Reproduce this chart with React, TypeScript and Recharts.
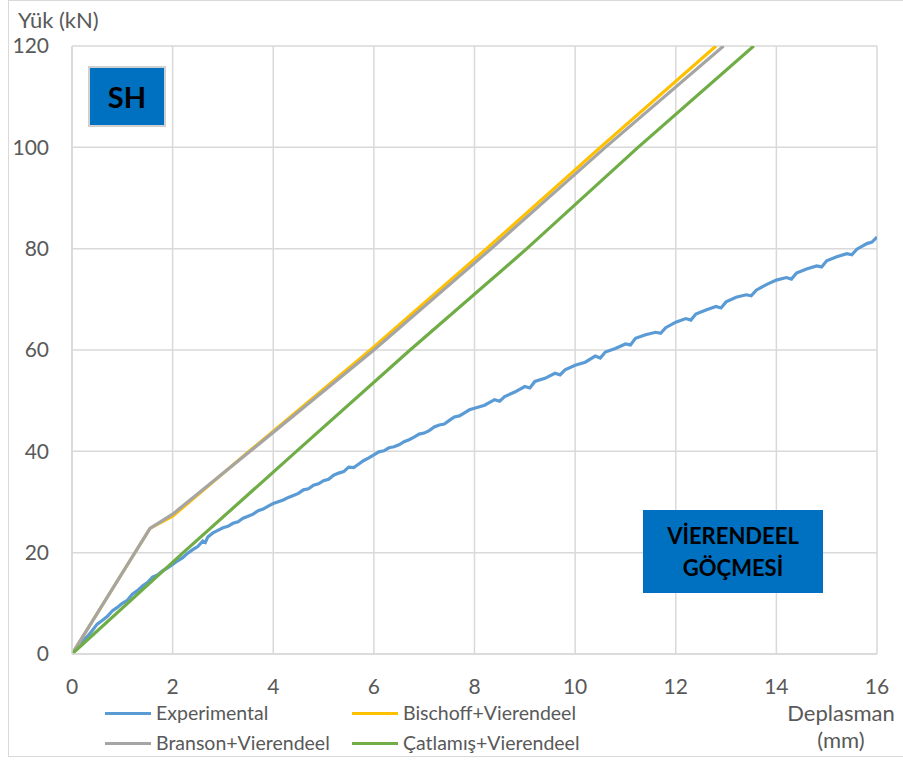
import React from "react";
import { LineChart, Line, XAxis, YAxis, CartesianGrid } from "recharts";

const xTicks = [0, 2, 4, 6, 8, 10, 12, 14, 16];
const yTicks = [0, 20, 40, 60, 80, 100, 120];

const seriesNames = ["Experimental", "Bischoff+Vierendeel", "Branson+Vierendeel", "Çatlamış+Vierendeel"];
const seriesColors = ["#5B9BD5", "#FFC000", "#A5A5A5", "#70AD47"];

const expX = [
  0, 0.1, 0.2, 0.3, 0.4, 0.5, 0.6, 0.7, 0.8, 0.9, 1.0, 1.1, 1.2, 1.3, 1.4, 1.5, 1.6, 1.7, 1.8, 1.9,
  2.0, 2.1, 2.2, 2.3, 2.4, 2.5, 2.6, 2.65, 2.7, 2.8, 2.9, 3.0, 3.1, 3.2, 3.3, 3.4, 3.5, 3.6, 3.7, 3.8,
  3.9, 4.0, 4.2, 4.3, 4.4, 4.5, 4.6, 4.7, 4.8, 4.9, 5.0, 5.1, 5.2, 5.3, 5.4, 5.5, 5.6, 5.7, 5.8, 5.9,
  6.0, 6.1, 6.2, 6.3, 6.4, 6.5, 6.6, 6.7, 6.8, 6.9, 7.0, 7.1, 7.2, 7.3, 7.4, 7.5, 7.6, 7.7, 7.8, 7.9,
  8.0, 8.2, 8.4, 8.5, 8.6, 8.8, 9.0, 9.1, 9.2, 9.4, 9.6, 9.7, 9.8, 10.0, 10.2, 10.4, 10.5, 10.6, 10.8,
  11.0, 11.1, 11.2, 11.4, 11.6, 11.7, 11.8, 12.0, 12.2, 12.3, 12.4, 12.6, 12.8, 12.9, 13.0, 13.2, 13.4,
  13.5, 13.6, 13.8, 14.0, 14.2, 14.3, 14.4, 14.6, 14.8, 14.9, 15.0, 15.2, 15.4, 15.5, 15.6, 15.8, 15.9, 16.0,
];
const expY = [
  0, 1.2, 2.5, 3.4, 4.6, 5.9, 6.6, 7.4, 8.5, 9.2, 10.0, 10.6, 11.8, 12.5, 13.4, 14.1, 15.2, 15.6, 16.4, 17.0,
  17.7, 18.4, 19.0, 19.9, 20.6, 21.2, 22.3, 22.0, 23.1, 23.9, 24.4, 24.9, 25.2, 25.8, 26.1, 26.8, 27.2, 27.6, 28.3, 28.6,
  29.2, 29.7, 30.4, 30.9, 31.3, 31.7, 32.4, 32.6, 33.3, 33.6, 34.2, 34.5, 35.3, 35.7, 36.0, 36.9, 36.8, 37.5, 38.2, 38.7,
  39.3, 39.9, 40.1, 40.7, 40.9, 41.3, 41.9, 42.3, 42.8, 43.4, 43.6, 44.1, 44.8, 45.2, 45.4, 46.1, 46.8, 47.0, 47.6, 48.2,
  48.5, 49.1, 50.2, 49.9, 50.8, 51.7, 52.8, 52.5, 53.8, 54.4, 55.4, 55.1, 56.1, 57.0, 57.6, 58.8, 58.4, 59.6, 60.3,
  61.2, 61.0, 62.3, 63.0, 63.5, 63.3, 64.4, 65.5, 66.2, 65.9, 67.1, 67.9, 68.6, 68.3, 69.5, 70.4, 70.9,
  70.7, 71.8, 72.9, 73.8, 74.3, 74.0, 75.2, 76.0, 76.6, 76.4, 77.6, 78.4, 79.0, 78.8, 79.9, 81.0, 81.3, 82.3,
];

const bischoffX = [0, 1.55, 2.0, 3.52, 5.93, 8.24, 10.5, 12.8];
const bischoffY = [0, 24.8, 27.2, 40, 60, 80, 100, 120];

const bransonX = [0, 1.55, 2.0, 3.54, 6.0, 8.33, 10.6, 12.95];
const bransonY = [0, 24.8, 27.6, 40, 60, 80, 100, 120];

const catlamisX = [0, 2.21, 4.46, 6.72, 9.04, 11.25, 13.55];
const catlamisY = [0, 20, 40, 60, 80, 100, 120];

const zip = (xs: number[], ys: number[]) => xs.map((x, i) => ({ x, y: ys[i] }));

const seriesData = [
  zip(expX, expY),
  zip(bischoffX, bischoffY),
  zip(bransonX, bransonY),
  zip(catlamisX, catlamisY),
];

const FONT = 'Lato, "Open Sans", sans-serif';
const TEXT = "#595959";
const GRID = "#D9D9D9";

const legendPos = [
  { x: 105, y: 713 },
  { x: 352, y: 713 },
  { x: 105, y: 743 },
  { x: 352, y: 743 },
];

export default function App() {
  return (
    <div
      style={{
        position: "absolute",
        left: 0,
        top: 0,
        width: 903,
        height: 765,
        background: "#fff",
        fontFamily: FONT,
        overflow: "hidden",
      }}
    >
      <div
        style={{
          position: "absolute",
          left: 8,
          top: 0,
          width: 920,
          height: 757,
          borderLeft: `1px solid ${GRID}`,
          borderTop: `1px solid ${GRID}`,
          borderBottom: `1px solid ${GRID}`,
          boxSizing: "border-box",
        }}
      />
      <div style={{ position: "absolute", left: 0, top: 0 }}>
        <LineChart width={903} height={765} margin={{ top: 46, right: 26, bottom: 81, left: 0 }}>
          <CartesianGrid stroke={GRID} strokeWidth={1.5} />
          <XAxis
            type="number"
            dataKey="x"
            domain={[0, 16]}
            ticks={xTicks}
            height={30}
            tickLine={false}
            tickMargin={19}
            axisLine={{ stroke: GRID, strokeWidth: 1.5 }}
            tick={{ fill: TEXT, fontSize: 21, fontFamily: FONT }}
            allowDataOverflow
          />
          <YAxis
            type="number"
            domain={[0, 120]}
            ticks={yTicks}
            width={72}
            tickLine={false}
            tickMargin={17}
            axisLine={{ stroke: GRID, strokeWidth: 1.5 }}
            tick={{ fill: TEXT, fontSize: 21, fontFamily: FONT }}
            allowDataOverflow
          />
          {seriesData.map((d, i) => (
            <Line
              key={seriesNames[i]}
              data={d}
              dataKey="y"
              name={seriesNames[i]}
              type="linear"
              stroke={seriesColors[i]}
              strokeWidth={3.2}
              dot={false}
              activeDot={false}
              isAnimationActive={false}
            />
          ))}
        </LineChart>
      </div>

      <div style={{ position: "absolute", left: 18, top: 6, fontSize: 22, color: TEXT, lineHeight: "28px" }}>
        Yük (kN)
      </div>

      <div
        style={{
          position: "absolute",
          left: 781,
          top: 699,
          width: 120,
          textAlign: "center",
          fontSize: 22,
          color: TEXT,
          lineHeight: "27px",
        }}
      >
        Deplasman
        <br />
        (mm)
      </div>

      {seriesNames.map((n, i) => (
        <div
          key={n}
          style={{
            position: "absolute",
            left: legendPos[i].x,
            top: legendPos[i].y - 13,
            height: 26,
            display: "flex",
            alignItems: "center",
            whiteSpace: "nowrap",
          }}
        >
          <div style={{ width: 46, height: 3, background: seriesColors[i], marginRight: 5 }} />
          <span style={{ fontSize: 19.5, color: TEXT, lineHeight: "26px" }}>{n}</span>
        </div>
      ))}

      <div
        style={{
          position: "absolute",
          left: 88,
          top: 66,
          width: 78,
          height: 61,
          background: "#0070C0",
          border: "2px solid #D0D0D0",
          boxSizing: "border-box",
          display: "flex",
          alignItems: "center",
          justifyContent: "center",
          fontWeight: 700,
          fontSize: 29,
          color: "#000",
        }}
      >
        SH
      </div>

      <div
        style={{
          position: "absolute",
          left: 643,
          top: 510,
          width: 180,
          height: 83,
          background: "#0070C0",
          display: "flex",
          flexDirection: "column",
          alignItems: "center",
          justifyContent: "center",
          fontWeight: 700,
          fontSize: 22,
          color: "#000",
          lineHeight: "32px",
        }}
      >
        <div>VİERENDEEL</div>
        <div>GÖÇMESİ</div>
      </div>
    </div>
  );
}
